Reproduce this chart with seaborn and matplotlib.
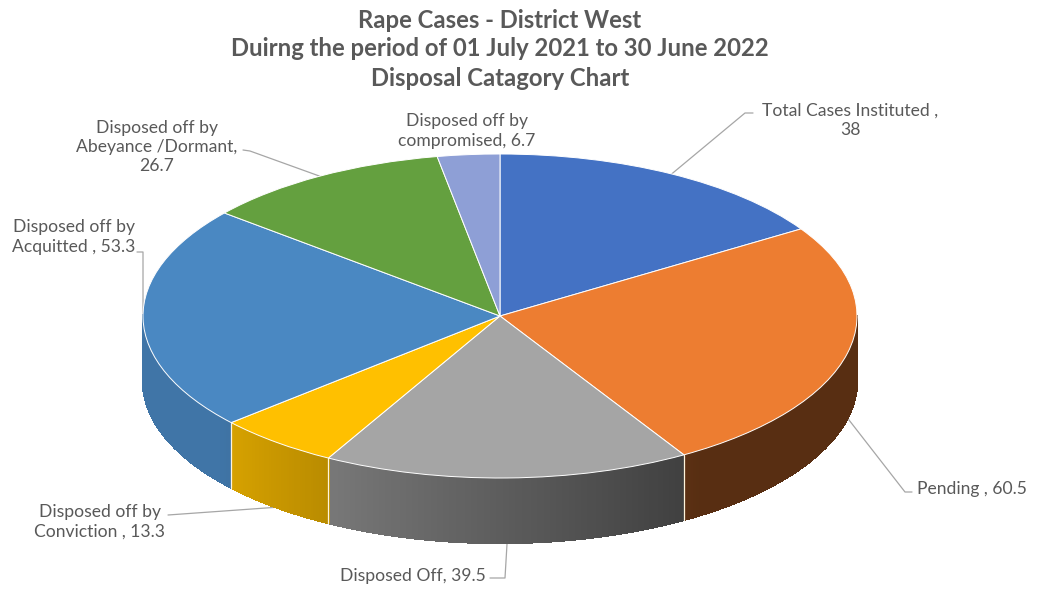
import numpy as np
import matplotlib
matplotlib.use("Agg")
import matplotlib.pyplot as plt
import seaborn as sns
from matplotlib.collections import PolyCollection
from matplotlib.transforms import Affine2D
from matplotlib.colors import to_rgb

# ---- data ----
categories = [
    "Total Cases Instituted",
    "Pending",
    "Disposed Off",
    "Disposed off by Conviction",
    "Disposed off by Acquitted",
    "Disposed off by Abeyance /Dormant",
    "Disposed off by compromised",
]
values = [38, 60.5, 39.5, 13.3, 53.3, 26.7, 6.7]
label_texts = [
    "Total Cases Instituted ,\n38",
    "Pending , 60.5",
    "Disposed Off, 39.5",
    "Disposed off by\nConviction , 13.3",
    "Disposed off by\nAcquitted , 53.3",
    "Disposed off by\nAbeyance /Dormant,\n26.7",
    "Disposed off by\ncompromised, 6.7",
]
title_lines = [
    "Rape Cases - District West",
    "Duirng the period of 01 July 2021 to 30 June 2022",
    "Disposal Catagory Chart",
]
colors = ["#4472C4", "#ED7D31", "#A5A5A5", "#FFC000", "#4A88C2", "#64A03F", "#8E9FD6"]

# ---- styling ----
sns.set_theme(style="white")
plt.rcParams["font.family"] = ["Lato", "DejaVu Sans"]
TXT = "#595959"

W, H = 1038, 589
fig = plt.figure(figsize=(W / 100, H / 100), dpi=100)
ax = fig.add_axes([0, 0, 1, 1])


def Y(py):
    """Convert a top-down pixel row into the axes' upward y coordinate."""
    return H - py


# pie geometry (ellipse seen at an angle, with a visible side wall)
cx, cy = 500, Y(316)
rx, ry = 357, 162
depth = 65
k = ry / rx

squash = Affine2D().translate(-cx, -cy).scale(1, k).translate(cx, cy) + ax.transData

wedges, _ = ax.pie(
    values,
    colors=colors,
    startangle=90,
    counterclock=False,
    radius=rx,
    center=(cx, cy),
    wedgeprops=dict(edgecolor="#ffffff", linewidth=0.7, zorder=3),
    frame=True,
)
for w in wedges:
    w.set_transform(squash)
    w.set_zorder(3)


def shade(a_deg):
    a = a_deg % 360
    return float(np.clip(0.73 - 0.0057 * (a - 241), 0.37, 0.86))


# side wall: shaded strips along the front half of every slice
polys, fcs = [], []
boundaries = []
for w, c in zip(wedges, colors):
    base = np.array(to_rgb(c))
    t1, t2 = w.theta1, w.theta2
    angs = np.linspace(t1, t2, max(int(abs(t2 - t1) * 2), 2))
    for a0, a1 in zip(angs[:-1], angs[1:]):
        am = np.radians((a0 + a1) / 2)
        if np.sin(am) >= 0:
            continue
        r0, r1 = np.radians(a0), np.radians(a1)
        x0, y0 = cx + rx * np.cos(r0), cy + ry * np.sin(r0)
        x1, y1 = cx + rx * np.cos(r1), cy + ry * np.sin(r1)
        polys.append([(x0, y0), (x1, y1), (x1, y1 - depth), (x0, y0 - depth)])
        fcs.append(tuple(np.clip(base * shade((a0 + a1) / 2), 0, 1)))
    for t in (t1, t2):
        if np.sin(np.radians(t)) < -0.01:
            boundaries.append(t)

side = PolyCollection(polys, facecolors=fcs, edgecolors=fcs, linewidths=1.0,
                      antialiaseds=False, zorder=2)
ax.add_collection(side)
for t in set(np.round(boundaries, 4)):
    r = np.radians(t)
    xb, yb = cx + rx * np.cos(r), cy + ry * np.sin(r)
    ax.plot([xb, xb], [yb, yb - depth], color="#fff4dc", lw=0.9, zorder=2.5)

# ---- data labels with leader lines ----
mids = [np.radians((w.theta1 + w.theta2) / 2) for w in wedges]


def anchor(i):
    a = mids[i]
    x, y = cx + rx * np.cos(a), cy + ry * np.sin(a)
    if np.sin(a) < 0:
        y -= depth
    return x, y


# label centre (pixel), alignment, leader path start points (pixel)
label_pos = [
    ((850, 120), "center", [(753, 113), (745, 113)]),
    ((917, 489), "left", [(912, 492), (905, 492)]),
    ((413, 576), "center", [(490, 578), (505, 578)]),
    ((100, 522), "center", [(168, 515)]),
    ((74, 237), "center", [(137, 252), (143, 252)]),
    ((157, 147), "center", [(243, 150), (250, 151)]),
    ((467, 131), "center", None),
]

for i, (txt, (pos, ha, path)) in enumerate(zip(label_texts, label_pos)):
    ax.text(pos[0], Y(pos[1]), txt, ha=ha, va="center", fontsize=12.6,
            color=TXT, linespacing=1.25, zorder=5)
    if path:
        ax_, ay_ = anchor(i)
        xs = [p[0] for p in path] + [ax_]
        ys = [Y(p[1]) for p in path] + [ay_]
        ax.plot(xs, ys, color="#a6a6a6", lw=0.9, zorder=1)

# ---- title ----
for j, line in enumerate(title_lines):
    ax.text(500, Y(20 + j * 29), line, ha="center", va="center", fontsize=17.2,
            fontweight="bold", color=TXT, zorder=5)

ax.set_xlim(0, W)
ax.set_ylim(0, H)
ax.set_aspect("auto")
ax.axis("off")

fig.savefig("out.png", dpi=100, facecolor="white")
